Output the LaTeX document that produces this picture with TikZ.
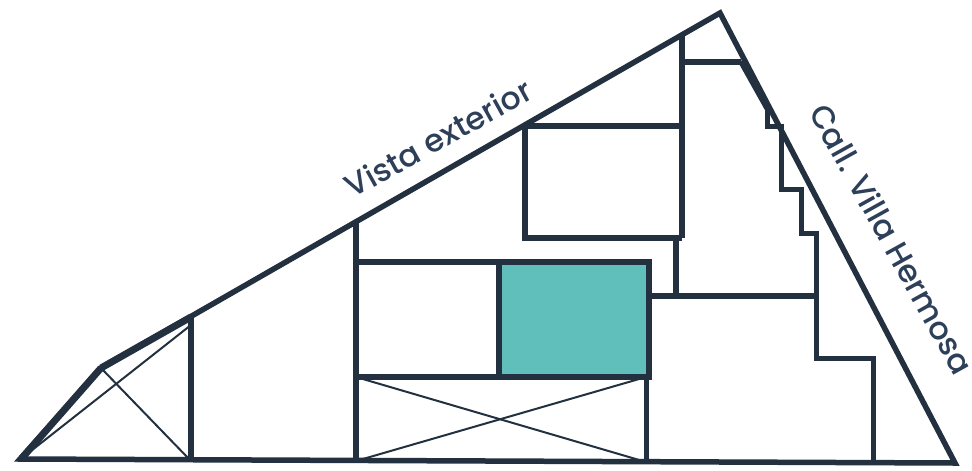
\documentclass[tikz,border=0pt]{standalone}
\usepackage{fontspec}
\setmainfont{Poppins Medium}
\usetikzlibrary{calc}
\definecolor{planline}{HTML}{22303F}
\definecolor{plantext}{HTML}{2E4059}
\definecolor{planteal}{HTML}{60BFBA}
\tikzset{
	wall/.style={line width=1.1mm, color=planline, miter limit=20},
	thinwall/.style={line width=1mm, color=planline},
	cross/.style={line width=0.4mm, color=planline},
	streetlabel/.style={color=plantext, font=\fontsize{18}{18}\selectfont, inner sep=0pt},
}

\begin{document}
\begin{tikzpicture}[x=0.02cm, y=-0.02cm]
		%%%%% START %%%%%
		\useasboundingbox (0, 0) rectangle (972, 470);
		
		\fill[color=planteal] (500, 263) rectangle (649, 377);
		
		% crossed areas
		\draw[cross] (101, 368) -- (190, 460);
		\draw[cross] (22, 458) -- (191, 325);
		\draw[cross] (356, 377) -- (646, 462);
		\draw[cross] (646, 377) -- (356, 461);
		
		% outer wall
		\draw[wall] (20, 459) -- (101, 368) -- (720, 13) -- (955, 463) -- cycle;
		\draw[line width=1.4mm, color=planline] (101, 368) -- (191, 317);
		\draw[line width=1.4mm, color=planline] (22, 458) -- (101, 368);
		
		% rooms
		\draw[wall] (191, 317) -- (191, 460);
		\draw[wall] (356, 222) -- (356, 461);
		\draw[wall] (356, 262) -- (649, 262) -- (649, 377) -- (356, 377);
		\draw[wall] (499, 262) -- (499, 377);
		\draw[thinwall] (646, 377) -- (646, 462);
		\draw[wall] (525, 126) -- (525, 238) -- (682, 238);
		\draw[wall] (525, 126) -- (682, 126);
		\draw[wall] (682, 33) -- (682, 238);
		\draw[wall] (676, 238) -- (676, 296);
		\draw[wall] (649, 296) -- (816, 296);
		
		% stepped wall
		\draw[wall] (682, 62) -- (741, 62);
		\fill[color=planline] (738, 62) -- (746, 59) -- (772, 108) -- (766, 112) -- cycle;
		\draw[thinwall] (767, 108) -- (767, 126) -- (781, 126) -- (781, 189) -- (801, 189) -- (801, 233) -- (816, 233) -- (816, 358) -- (873, 358) -- (873, 463);
		
		\node[streetlabel, rotate=29] (vistalabel) at (438, 138) {Vista exterior};
		\node[streetlabel, rotate=-61] (calllabel) at (892, 239) {Call. Villa Hermosa};
		
		%%%%% END %%%%%
	\end{tikzpicture}
\end{document}
